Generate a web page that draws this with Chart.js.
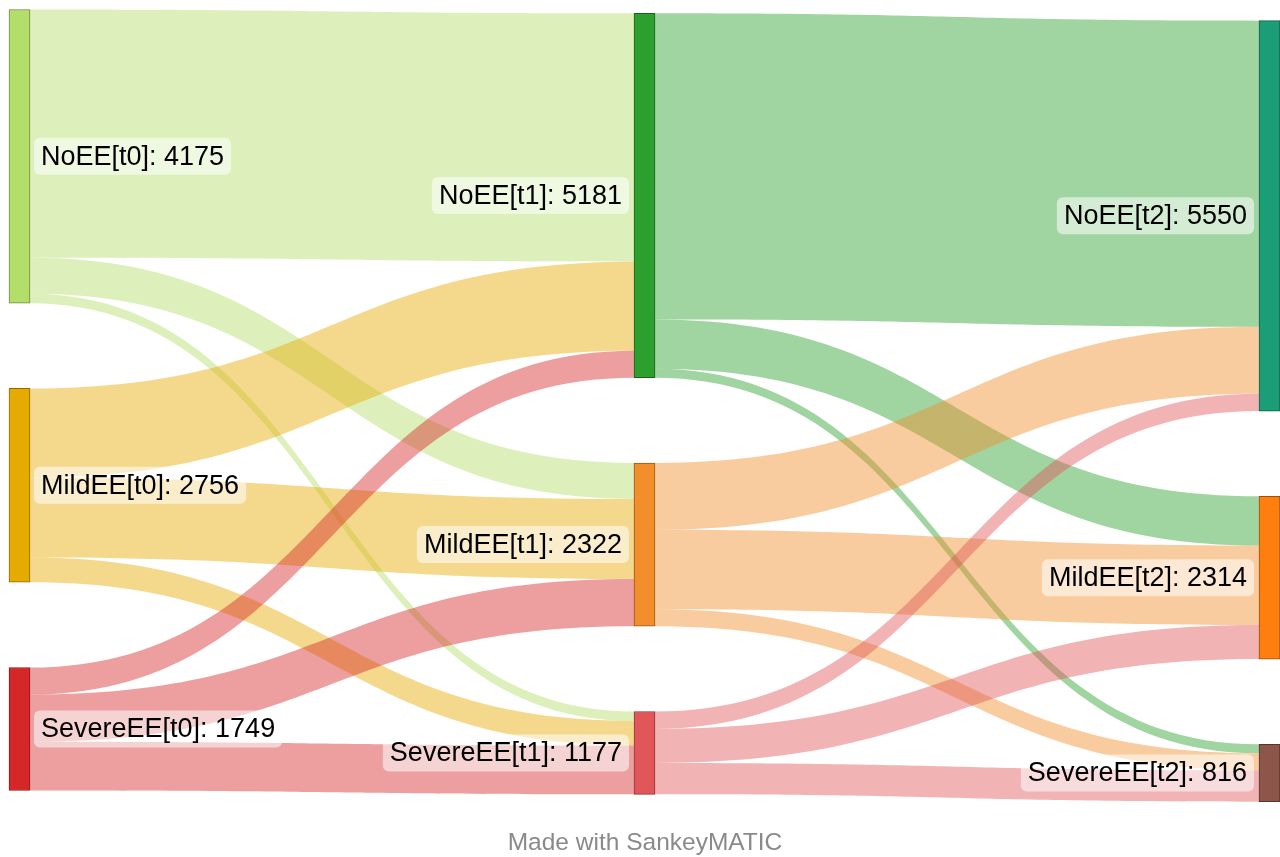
<!DOCTYPE html>
<html>
<head>
<meta charset="utf-8">
<title>SankeyMATIC</title>
<script src="https://cdn.jsdelivr.net/npm/chart.js@4.4.1/dist/chart.umd.min.js"></script>
<style>
  html, body { margin: 0; padding: 0; background: #fff; }
  #wrap { position: relative; width: 1280px; height: 857px; overflow: hidden; }
  #credit {
    position: absolute; left: 0; width: 1290px; top: 828px;
    text-align: center; color: #8a8a8a;
    font: 24.5px "Liberation Sans", Arial, sans-serif;
  }
</style>
</head>
<body>
<div id="wrap">
  <canvas id="sankey" width="1280" height="857"></canvas>
  <div id="credit">Made with SankeyMATIC</div>
</div>
<script>
// --- DATOS ---
const stages = ['t0', 't1', 't2'];
const states = ['NoEE', 'MildEE', 'SevereEE'];
const totalsT0 = [4175, 2756, 1749];
const totalsT1 = [5181, 2322, 1177];
const totalsT2 = [5550, 2314, 816];
// filas = origen, columnas = destino (NoEE, MildEE, SevereEE)
const flowsT0T1 = [[3531, 511, 133], [1265, 1140, 351], [385, 671, 693]];
const flowsT1T2 = [[4353, 700, 128], [950, 1130, 242], [247, 484, 446]];

// --- ESTILO / LAYOUT ---
const nodeColors = [
    ['#b3de69', '#e6ab02', '#d62728'],
    ['#2ca02c', '#f28e2b', '#e15759'],
    ['#1b9e77', '#ff7f0e', '#8c564b']
];
const NODE_W = 21;
const GAP = 1212;              // hueco entre nodos, en unidades
const COL_SHIFT = [0, 54, 159]; // desplazamiento vertical de cada columna
const Y_MAX = 11263;
const FLOW_ALPHA = 0.45;
const LABEL_FONT = '27px "Liberation Sans", Arial, sans-serif';

const totals = [totalsT0, totalsT1, totalsT2];
const flows = [flowsT0T1, flowsT1T2];

function hexToRgb(hex) {
    const n = parseInt(hex.slice(1), 16);
    return [(n >> 16) & 255, (n >> 8) & 255, n & 255];
}
function rgba(hex, a) {
    const [r, g, b] = hexToRgb(hex);
    return `rgba(${r},${g},${b},${a})`;
}
function darker(hex) {
    const [r, g, b] = hexToRgb(hex).map(v => Math.round(v * 0.62));
    return `rgb(${r},${g},${b})`;
}

// posiciones de nodos en unidades del eje y
const nodeTop = totals.map((col, s) => {
    let acc = COL_SHIFT[s];
    return col.map((v) => {
        const t = acc;
        acc += v + GAP;
        return t;
    });
});

const nodeBars = [];
const barColors = [];
const barBorders = [];
totals.forEach((col, s) => col.forEach((v, i) => {
    nodeBars.push({ x: s, y: [nodeTop[s][i], nodeTop[s][i] + v] });
    barColors.push(nodeColors[s][i]);
    barBorders.push(darker(nodeColors[s][i]));
}));

function drawBand(ctx, x0, x1, y0a, y0b, y1a, y1b) {
    const xm = (x0 + x1) / 2;
    ctx.beginPath();
    ctx.moveTo(x0, y0a);
    ctx.bezierCurveTo(xm, y0a, xm, y1a, x1, y1a);
    ctx.lineTo(x1, y1b);
    ctx.bezierCurveTo(xm, y1b, xm, y0b, x0, y0b);
    ctx.closePath();
    ctx.fill();
}

const flowPlugin = {
    id: 'flows',
    beforeDatasetsDraw(chart) {
        const ctx = chart.ctx;
        const xs = chart.scales.x, ys = chart.scales.y;
        ctx.save();
        flows.forEach((matrix, s) => {
            const outAcc = totals[s].map(() => 0);
            const inAcc = totals[s + 1].map(() => 0);
            const x0 = xs.getPixelForValue(s) + NODE_W / 2;
            const x1 = xs.getPixelForValue(s + 1) - NODE_W / 2;
            matrix.forEach((row, i) => row.forEach((v, j) => {
                const a0 = nodeTop[s][i] + outAcc[i];
                const a1 = nodeTop[s + 1][j] + inAcc[j];
                outAcc[i] += v;
                inAcc[j] += v;
                ctx.fillStyle = rgba(nodeColors[s][i], FLOW_ALPHA);
                drawBand(ctx, x0, x1,
                    ys.getPixelForValue(a0), ys.getPixelForValue(a0 + v),
                    ys.getPixelForValue(a1), ys.getPixelForValue(a1 + v));
            }));
        });
        ctx.restore();
    }
};

function roundRect(ctx, x, y, w, h, r) {
    ctx.beginPath();
    ctx.moveTo(x + r, y);
    ctx.arcTo(x + w, y, x + w, y + h, r);
    ctx.arcTo(x + w, y + h, x, y + h, r);
    ctx.arcTo(x, y + h, x, y, r);
    ctx.arcTo(x, y, x + w, y, r);
    ctx.closePath();
}

const labelPlugin = {
    id: 'labels',
    afterDatasetsDraw(chart) {
        const ctx = chart.ctx;
        const xs = chart.scales.x, ys = chart.scales.y;
        ctx.save();
        ctx.font = LABEL_FONT;
        ctx.textBaseline = 'middle';
        totals.forEach((col, s) => col.forEach((v, i) => {
            const txt = `${states[i]}[${stages[s]}]: ${v}`;
            const w = ctx.measureText(txt).width;
            const cy = ys.getPixelForValue(nodeTop[s][i] + v / 2);
            const cx = xs.getPixelForValue(s);
            const boxW = w + 14, boxH = 37;
            const bx = s === 0 ? cx + NODE_W / 2 + 4 : cx - NODE_W / 2 - 5 - boxW;
            ctx.fillStyle = 'rgba(255,255,255,0.55)';
            roundRect(ctx, bx, cy - boxH / 2, boxW, boxH, 6);
            ctx.fill();
            ctx.fillStyle = '#000';
            ctx.textAlign = 'left';
            ctx.fillText(txt, bx + 7, cy + 1);
        }));
        ctx.restore();
    }
};

const ctx = document.getElementById('sankey').getContext('2d');
new Chart(ctx, {
    type: 'bar',
    data: {
        datasets: [{
            data: nodeBars,
            backgroundColor: barColors,
            borderColor: barBorders,
            borderWidth: 1,
            borderSkipped: false,
            barThickness: NODE_W,
            grouped: false,
            clip: false
        }]
    },
    options: {
        responsive: false,
        animation: false,
        layout: { padding: { left: 19.5, right: 10.5, top: 9.5, bottom: 55.3 } },
        scales: {
            x: { type: 'linear', min: 0, max: 2, offset: false, display: false },
            y: { type: 'linear', min: 0, max: Y_MAX, reverse: true, display: false }
        },
        plugins: {
            legend: { display: false },
            tooltip: { enabled: false }
        }
    },
    plugins: [flowPlugin, labelPlugin]
});
</script>
</body>
</html>
